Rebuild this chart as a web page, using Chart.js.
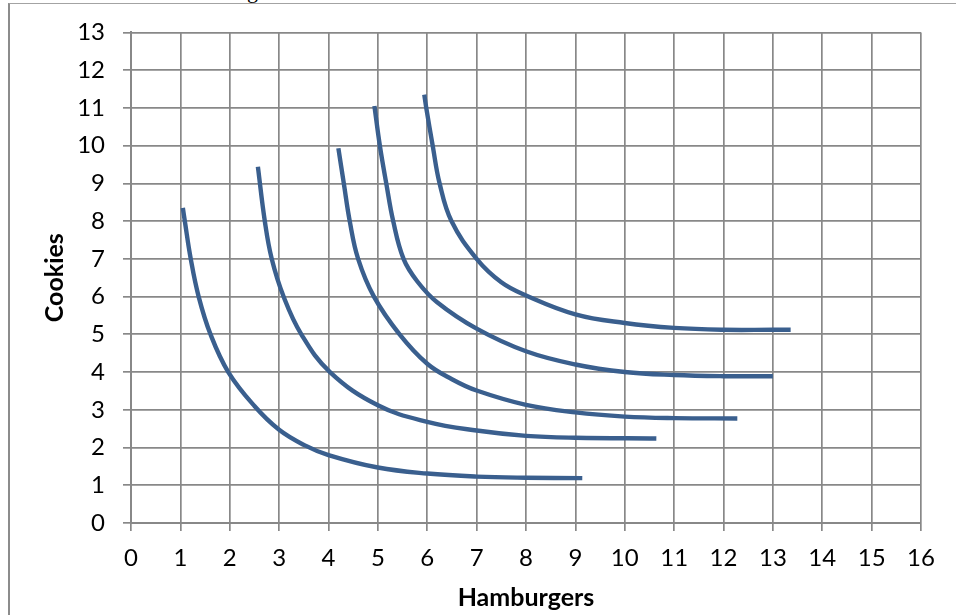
<!DOCTYPE html>
<html>
<head>
<meta charset="utf-8">
<script src="https://cdn.jsdelivr.net/npm/chart.js@4.4.1/dist/chart.umd.min.js"></script>
<style>
  html, body { margin: 0; padding: 0; background: #fff; overflow: hidden; }
  #wrap { position: relative; width: 956px; height: 615px; }
  #frame {
    position: absolute; left: 8px; top: 3px; right: 0; bottom: 0;
    border-left: 2px solid #8c8c8c; border-top: 1px solid #a3a3a3;
  }
  #cut {
    position: absolute; left: 247px; top: -20px;
    font: 22px/22px "Liberation Serif", serif; color: #000;
  }
  canvas { position: absolute; left: 0; top: 0; }
</style>
</head>
<body>
<div id="wrap">
  <div id="frame"></div>
  <div id="cut">g</div>
  <canvas id="chart" width="956" height="615"></canvas>
</div>
<script>
// curves (hamburgers, cookies)
const curve1X = [1.05, 1.09, 1.21, 1.37, 1.61, 1.97, 2.5, 3, 3.5, 4, 5, 6, 7, 8, 9.14];
const curve1Y = [8.35, 8.0, 7.0, 6.0, 5.0, 4.0, 3.1, 2.47, 2.07, 1.8, 1.47, 1.31, 1.23, 1.2, 1.19];

const curve2X = [2.57, 2.71, 2.85, 3.09, 3.45, 4.03, 5, 6, 7, 8, 9, 10.64];
const curve2Y = [9.44, 8.0, 7.0, 6.0, 5.0, 4.0, 3.12, 2.68, 2.45, 2.31, 2.26, 2.24];

const curve3X = [4.20, 4.31, 4.43, 4.60, 4.92, 5.44, 6, 6.5, 7, 8, 9, 10, 11, 12.28];
const curve3Y = [9.93, 9.0, 8.0, 7.0, 6.0, 5.0, 4.22, 3.81, 3.51, 3.13, 2.93, 2.82, 2.78, 2.77];

const curve4X = [4.93, 5.04, 5.17, 5.31, 5.52, 5.8, 6.2, 7, 8, 9, 10, 11, 12, 13.0];
const curve4Y = [11.05, 10.0, 9.0, 8.0, 7.0, 6.4, 5.85, 5.15, 4.55, 4.2, 4.0, 3.92, 3.89, 3.89];

const curve5X = [5.94, 5.98, 6.11, 6.25, 6.49, 7, 7.5, 8, 9, 10, 11, 12, 13, 13.36];
const curve5Y = [11.35, 11.0, 10.0, 9.0, 8.0, 7.0, 6.38, 6.03, 5.53, 5.3, 5.17, 5.12, 5.12, 5.12];

const curves = [
  [curve1X, curve1Y],
  [curve2X, curve2Y],
  [curve3X, curve3Y],
  [curve4X, curve4Y],
  [curve5X, curve5Y]
];

const xTicks = [0, 1, 2, 3, 4, 5, 6, 7, 8, 9, 10, 11, 12, 13, 14, 15, 16];
const yTicks = [0, 1, 2, 3, 4, 5, 6, 7, 8, 9, 10, 11, 12, 13];

const LINE = '#3a5f8e';
const GRID = '#888888';

const datasets = curves.map(([xs, ys]) => ({
  data: xs.map((x, i) => ({ x: x, y: ys[i] })),
  showLine: true,
  borderColor: LINE,
  borderWidth: 4.4,
  pointRadius: 0,
  tension: 0.4,
  fill: false
}));

new Chart(document.getElementById('chart').getContext('2d'), {
  type: 'scatter',
  data: { datasets: datasets },
  options: {
    responsive: false,
    animation: false,
    layout: { padding: { top: 20, right: 35, left: 0, bottom: 0 } },
    plugins: {
      legend: { display: false },
      tooltip: { enabled: false }
    },
    scales: {
      x: {
        type: 'linear',
        min: xTicks[0],
        max: xTicks[xTicks.length - 1],
        afterFit: (scale) => { scale.height = 92; },
        afterBuildTicks: (scale) => { scale.ticks = xTicks.map(v => ({ value: v })); },
        ticks: {
          padding: 13,
          color: '#000',
          font: { family: 'Lato', size: 24 }
        },
        grid: { color: GRID, lineWidth: 1.7, tickLength: 8, tickColor: GRID },
        border: { color: GRID, width: 2 },
        title: {
          display: true,
          text: 'Hamburgers',
          color: '#000',
          font: { family: 'Lato', size: 25, weight: 'bold' },
          padding: { top: 0, bottom: 2 }
        }
      },
      y: {
        type: 'linear',
        min: yTicks[0],
        max: yTicks[yTicks.length - 1],
        afterFit: (scale) => { scale.width = 131; },
        afterBuildTicks: (scale) => { scale.ticks = yTicks.map(v => ({ value: v })); },
        ticks: {
          padding: 18,
          color: '#000',
          font: { family: 'Lato', size: 24 }
        },
        grid: { color: GRID, lineWidth: 1.7, tickLength: 8, tickColor: GRID },
        border: { color: GRID, width: 2 },
        title: {
          display: true,
          text: 'Cookies',
          color: '#000',
          font: { family: 'Lato', size: 25, weight: 'bold' },
          padding: { top: 40, bottom: 0 }
        }
      }
    }
  }
});
</script>
</body>
</html>
